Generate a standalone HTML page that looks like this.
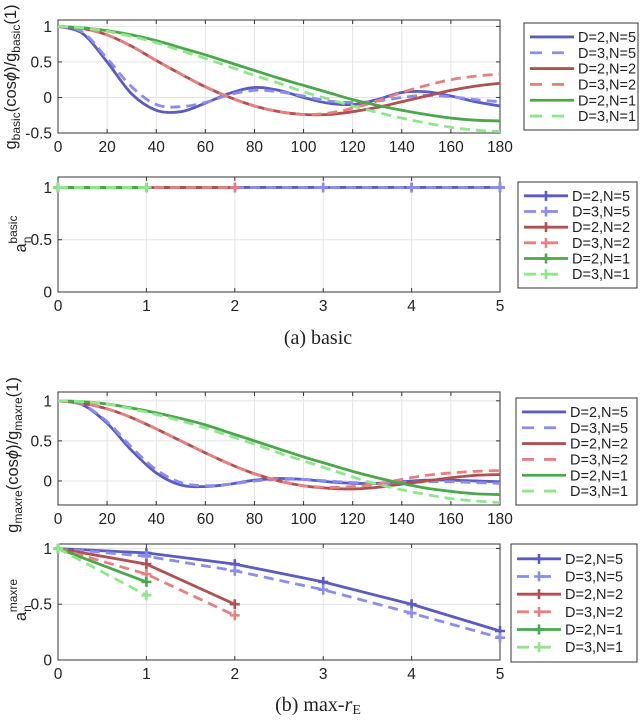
<!DOCTYPE html>
<html><head><meta charset="utf-8">
<style>
body{margin:0;background:#fff;width:640px;height:715px;overflow:hidden;font-family:"Liberation Sans",sans-serif;}
svg text{font-family:"Liberation Sans",sans-serif;fill:#222;}
</style></head>
<body>
<svg id="chart" width="640" height="715" viewBox="0 0 640 715" xmlns="http://www.w3.org/2000/svg"></svg>
<script>
// ---- data ----
const angles = [0,10,20,30,40,50,60,70,80,90,100,110,120,130,140,150,160,170,180];
const basicD2N5 = [1,0.9,0.5,0.05,-0.18,-0.2,-0.08,0.06,0.14,0.1,0.0,-0.08,-0.1,-0.03,0.07,0.08,0.02,-0.06,-0.12];
const basicD3N5 = [1,0.92,0.55,0.15,-0.1,-0.13,-0.07,0.04,0.1,0.08,0.02,-0.05,-0.07,-0.05,0.0,0.03,0.01,-0.03,-0.06];
const basicD2N2 = [1,0.97,0.88,0.72,0.52,0.33,0.15,0.0,-0.12,-0.2,-0.24,-0.24,-0.2,-0.14,-0.06,0.02,0.1,0.16,0.2];
const basicD3N2 = [1,0.97,0.88,0.72,0.52,0.33,0.15,0.0,-0.12,-0.2,-0.24,-0.22,-0.15,-0.05,0.07,0.17,0.25,0.3,0.33];
const basicD2N1 = [1,0.98,0.94,0.88,0.8,0.7,0.6,0.49,0.38,0.27,0.17,0.07,-0.03,-0.11,-0.18,-0.24,-0.29,-0.32,-0.33];
const basicD3N1 = [1,0.98,0.93,0.86,0.77,0.66,0.55,0.43,0.31,0.2,0.08,-0.02,-0.12,-0.21,-0.29,-0.36,-0.42,-0.46,-0.48];
const maxreD2N5 = [1,0.95,0.72,0.38,0.1,-0.05,-0.07,-0.04,0.01,0.03,0.02,-0.01,-0.03,-0.03,-0.01,0.01,0.01,0.0,-0.01];
const maxreD3N5 = [1,0.95,0.74,0.42,0.14,-0.02,-0.06,-0.04,0.0,0.02,0.02,0.0,-0.02,-0.03,-0.02,-0.01,-0.01,-0.02,-0.03];
const maxreD2N2 = [1,0.97,0.9,0.79,0.65,0.5,0.35,0.21,0.09,0.0,-0.06,-0.09,-0.1,-0.08,-0.04,0.0,0.04,0.07,0.08];
const maxreD3N2 = [1,0.97,0.9,0.79,0.65,0.5,0.35,0.21,0.09,0.0,-0.06,-0.08,-0.07,-0.04,0.02,0.07,0.1,0.12,0.13];
const maxreD2N1 = [1,0.99,0.96,0.91,0.85,0.78,0.7,0.6,0.5,0.4,0.3,0.21,0.12,0.04,-0.03,-0.09,-0.13,-0.16,-0.17];
const maxreD3N1 = [1,0.99,0.96,0.9,0.83,0.75,0.66,0.56,0.46,0.35,0.25,0.15,0.05,-0.04,-0.11,-0.17,-0.22,-0.25,-0.27];
const orders5 = [0,1,2,3,4,5];
const orders2 = [0,1,2];
const orders1 = [0,1];
const anBasicN5 = [1,1,1,1,1,1];
const anBasicN2 = [1,1,1];
const anBasicN1 = [1,1];
const anMaxreD2N5 = [1,0.96,0.86,0.7,0.5,0.26];
const anMaxreD3N5 = [1,0.93,0.8,0.63,0.42,0.2];
const anMaxreD2N2 = [1,0.86,0.5];
const anMaxreD3N2 = [1,0.77,0.4];
const anMaxreD2N1 = [1,0.7];
const anMaxreD3N1 = [1,0.58];
const angleTicks = [0,20,40,60,80,100,120,140,160,180];
const orderTicks = [0,1,2,3,4,5];
const legendLabels = ["D=2,N=5","D=3,N=5","D=2,N=2","D=3,N=2","D=2,N=1","D=3,N=1"];

const C = {b:"#5a5cc0",bl:"#8a8cf0",r:"#b05050",rl:"#e88080",g:"#4aa84a",gl:"#8ee88a"};
const NS="http://www.w3.org/2000/svg";
const svg=document.getElementById('chart');
function el(tag,attrs,parent){const e=document.createElementNS(NS,tag);for(const k in attrs)e.setAttribute(k,attrs[k]);(parent||svg).appendChild(e);return e;}

function makeAxes(name,x0,x1,y0,y1,xmin,xmax,ymin,ymax,xt,yt){
  const g=el('g',{});
  
  
  const sx=v=>x0+(v-xmin)/(xmax-xmin)*(x1-x0);
  const sy=v=>y1-(v-ymin)/(ymax-ymin)*(y1-y0);
  for(const t of xt){const l=el('line',{x1:sx(t),x2:sx(t),y1:y0,y2:y1,stroke:'#e4e4e4','stroke-width':1},g);}
  for(const t of yt){const l=el('line',{x1:x0,x2:x1,y1:sy(t),y2:sy(t),stroke:'#e4e4e4','stroke-width':1},g);}
  const fr=el('rect',{x:x0,y:y0,width:x1-x0,height:y1-y0,fill:'none',stroke:'#333','stroke-width':1},g);
  
  for(const t of xt){
    el('line',{x1:sx(t),x2:sx(t),y1:y1,y2:y1-4,stroke:'#333'},g);el('line',{x1:sx(t),x2:sx(t),y1:y0,y2:y0+4,stroke:'#333'},g);
    const tx=el('text',{x:sx(t),y:y1+19,'text-anchor':'middle','font-size':15.5},g);tx.textContent=t;
    
  }
  for(const t of yt){
    el('line',{x1:x0,x2:x0+4,y1:sy(t),y2:sy(t),stroke:'#333'},g);el('line',{x1:x1,x2:x1-4,y1:sy(t),y2:sy(t),stroke:'#333'},g);
    const tx=el('text',{x:x0-6,y:sy(t)+5.5,'text-anchor':'end','font-size':15.5},g);tx.textContent=t;
    
  }
  return {sx,sy,g};
}
function smoothPath(pts){
  let d=`M${pts[0][0]},${pts[0][1]}`;
  for(let i=0;i<pts.length-1;i++){
    const p0=pts[i-1]||pts[i],p1=pts[i],p2=pts[i+1],p3=pts[i+2]||p2;
    d+=` C${p1[0]+(p2[0]-p0[0])/6},${p1[1]+(p2[1]-p0[1])/6} ${p2[0]-(p3[0]-p1[0])/6},${p2[1]-(p3[1]-p1[1])/6} ${p2[0]},${p2[1]}`;
  }
  return d;
}
function curve(ax,xs,ys,color,dash,name){
  const p=el('path',{d:smoothPath(xs.map((x,i)=>[ax.sx(x),ax.sy(ys[i])])),fill:'none',stroke:color,'stroke-width':2.8,'stroke-dasharray':dash?'10,6':'none'},ax.g);
  
  
}
function polyMarks(ax,xs,ys,color,dash,name){
  const p=el('polyline',{points:xs.map((x,i)=>ax.sx(x)+','+ax.sy(ys[i])).join(' '),fill:'none',stroke:color,'stroke-width':2.8,'stroke-dasharray':dash?'10,6':'none'},ax.g);
  
  
  xs.forEach((x,i)=>{
    const cx=ax.sx(x),cy=ax.sy(ys[i]);
    const m=el('path',{d:`M${cx-5},${cy}H${cx+5}M${cx},${cy-5}V${cy+5}`,stroke:color,'stroke-width':2.6},ax.g);
    
    
  });
}
function legend(name,x,y,w,h,markers){
  const g=el('g',{});
  
  
  el('rect',{x,y,width:w,height:h,fill:'#fff',stroke:'#333'},g);
  const cols=[C.b,C.bl,C.r,C.rl,C.g,C.gl];
  const step=(h-12)/6;
  legendLabels.forEach((lab,i)=>{
    const yy=y+6+step*(i+0.5);
    const lx=x+6;
    el('line',{x1:lx,x2:lx+44,y1:yy,y2:yy,stroke:cols[i],'stroke-width':2.8,'stroke-dasharray':i%2?'12,10':'none'},g);
    if(markers)el('path',{d:`M${lx+22-5},${yy}H${lx+22+5}M${lx+22},${yy-5}V${yy+5}`,stroke:cols[i],'stroke-width':2.6},g);
    const t=el('text',{x:lx+48,y:yy+5,'font-size':14.5},g);t.textContent=lab;
    
  });
}
function ylabel(name,x,y,html){
  const t=el('text',{transform:`translate(${x},${y}) rotate(-90)`,'text-anchor':'middle','font-size':16.5});
  t.innerHTML=html;
  
  
}

// Panel 1
const a1=makeAxes('basic-response-plot',58,500,20,133,0,180,-0.5,1.09,angleTicks,[-0.5,0,0.5,1]);
curve(a1,angles,basicD2N5,C.b,false,'line-basic-d2n5');
curve(a1,angles,basicD3N5,C.bl,true,'line-basic-d3n5');
curve(a1,angles,basicD2N2,C.r,false,'line-basic-d2n2');
curve(a1,angles,basicD3N2,C.rl,true,'line-basic-d3n2');
curve(a1,angles,basicD2N1,C.g,false,'line-basic-d2n1');
curve(a1,angles,basicD3N1,C.gl,true,'line-basic-d3n1');
legend('basic-response-legend',524,23,114,107,false);
ylabel('basic-response-y-title',16,77,'g<tspan font-size="12" dy="4">basic</tspan><tspan dy="-4">(cos</tspan><tspan font-style="italic">ϕ</tspan>)/g<tspan font-size="12" dy="4">basic</tspan><tspan dy="-4">(1)</tspan>');

// Panel 2
const a2=makeAxes('basic-weights-plot',58,500,177,292,0,5,0,1.1,orderTicks,[0,0.5,1]);
polyMarks(a2,orders5,anBasicN5,C.b,false,'line-an-basic-d2n5');
polyMarks(a2,orders5,anBasicN5,C.bl,true,'line-an-basic-d3n5');
polyMarks(a2,orders2,anBasicN2,C.r,false,'line-an-basic-d2n2');
polyMarks(a2,orders2,anBasicN2,C.rl,true,'line-an-basic-d3n2');
polyMarks(a2,orders1,anBasicN1,C.g,false,'line-an-basic-d2n1');
polyMarks(a2,orders1,anBasicN1,C.gl,true,'line-an-basic-d3n1');
legend('basic-weights-legend',518,182,119,106,true);
ylabel('basic-weights-y-title',26,234,'a<tspan font-size="12" dy="5">n</tspan><tspan font-size="12" dx="-7" dy="-14">basic</tspan>');
const c1=el('text',{x:318,y:344,'text-anchor':'middle','font-size':20,style:'font-family:"Liberation Serif",serif'});
c1.textContent='(a)  basic';


// Panel 3
const a3=makeAxes('maxre-response-plot',58,500,392,505,0,180,-0.3,1.11,angleTicks,[0,0.5,1]);
curve(a3,angles,maxreD2N5,C.b,false,'line-maxre-d2n5');
curve(a3,angles,maxreD3N5,C.bl,true,'line-maxre-d3n5');
curve(a3,angles,maxreD2N2,C.r,false,'line-maxre-d2n2');
curve(a3,angles,maxreD3N2,C.rl,true,'line-maxre-d3n2');
curve(a3,angles,maxreD2N1,C.g,false,'line-maxre-d2n1');
curve(a3,angles,maxreD3N1,C.gl,true,'line-maxre-d3n1');
legend('maxre-response-legend',516,398,121,107,false);
ylabel('maxre-response-y-title',18,455,'g<tspan font-size="12" dy="4">maxre</tspan><tspan dy="-4">(cos</tspan><tspan font-style="italic">ϕ</tspan>)/g<tspan font-size="12" dy="4">maxre</tspan><tspan dy="-4">(1)</tspan>');

// Panel 4
const a4=makeAxes('maxre-weights-plot',58,500,544,660,0,5,0,1.04,orderTicks,[0,0.5,1]);
polyMarks(a4,orders5,anMaxreD2N5,C.b,false,'line-an-maxre-d2n5');
polyMarks(a4,orders5,anMaxreD3N5,C.bl,true,'line-an-maxre-d3n5');
polyMarks(a4,orders2,anMaxreD2N2,C.r,false,'line-an-maxre-d2n2');
polyMarks(a4,orders2,anMaxreD3N2,C.rl,true,'line-an-maxre-d3n2');
polyMarks(a4,orders1,anMaxreD2N1,C.g,false,'line-an-maxre-d2n1');
polyMarks(a4,orders1,anMaxreD3N1,C.gl,true,'line-an-maxre-d3n1');
legend('maxre-weights-legend',511,544,126,118,true);
ylabel('maxre-weights-y-title',26,600,'a<tspan font-size="12" dy="5">n</tspan><tspan font-size="12" dx="-7" dy="-14">maxre</tspan>');
const c2=el('text',{x:318,y:711,'text-anchor':'middle','font-size':20,style:'font-family:"Liberation Serif",serif'});
c2.innerHTML='(b)  max-<tspan font-style="italic">r</tspan><tspan font-size="14" dy="3">E</tspan>';

</script>
</body></html>
